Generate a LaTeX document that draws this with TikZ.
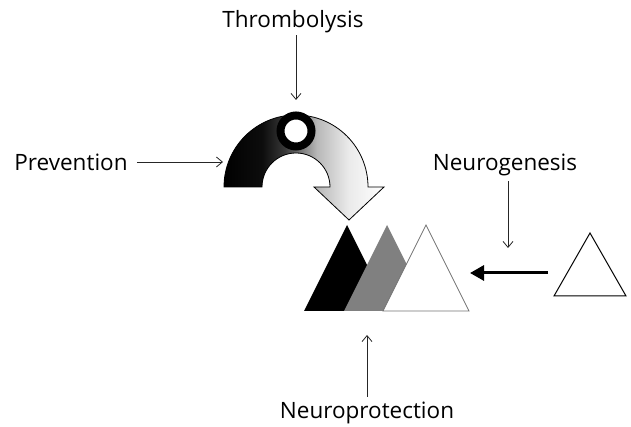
\documentclass[tikz,border=0pt]{standalone}
\usepackage{fontspec}
\setsansfont{Open Sans}
\usetikzlibrary{arrows.meta}
\pgfdeclarehorizontalshading{archfade}{100bp}{color(0bp)=(black); color(25bp)=(black); color(37bp)=(black!95); color(44bp)=(black!78); color(54bp)=(black!28); color(64bp)=(black!8); color(75bp)=(white); color(100bp)=(white)}
\tikzset{
    font=\sffamily,
    >={Straight Barb[length=6pt,width=10pt]},
    % Labels
    lbl/.style={font=\sffamily\fontsize{22.5}{26}\selectfont, inner sep=5pt},
    % Shapes
    ring/.style={circle, draw=black, line width=8pt, fill=white, minimum size=31pt, inner sep=0pt},
    % Arrows
    pointer/.style={->, line width=0.8pt, black!85},
    bigarrow/.style={-{Triangle[length=14pt,width=15pt]}, line width=3pt}
}

\begin{document}
\begin{tikzpicture}[x=1pt,y=1pt]
\useasboundingbox (0,0) rectangle (631,427);

% curved arrow with the ring on top
\shadedraw[shading=archfade, draw=black, line width=0.8pt]
    (224,240) arc[start angle=180, end angle=0, radius=72]
    -- (384,240) -- (349,207) -- (314,240) -- (330,240)
    arc[start angle=0, end angle=180, radius=34] -- cycle;
\node[ring] (ring) at (296,296) {};

% the three overlapping triangles
\fill[black] (304,116) -- (347,202) -- (390,116) -- cycle;
\fill[black!50] (344,116) -- (387,202) -- (430,116) -- cycle;
\filldraw[fill=white, draw=black!55, line width=0.8pt] (383,116) -- (426,202) -- (469,116) -- cycle;

% new triangle
\draw[line width=1pt] (554,131) -- (590,194) -- (626,131) -- cycle;
\coordinate (newTail) at (548,154);
\coordinate (newHead) at (470,154);
\draw[bigarrow] (newTail) -- (newHead);

% labels
\node[lbl] (thromb) at (293,405) {Thrombolysis};
\node[lbl] (prev) at (71,265) {Prevention};
\node[lbl] (neurog) at (505,262) {Neurogenesis};
\node[lbl] (neuroprot) at (367,14) {Neuroprotection};

\coordinate (thrombEnd) at (296,327);
\coordinate (prevEnd) at (223,265);
\coordinate (neurogEnd) at (508,179);
\coordinate (protEnd) at (367,92);

\draw[pointer, shorten <=-3pt] (thromb.south -| thrombEnd) -- (thrombEnd);
\draw[pointer, shorten <=4pt] (prev) -- (prevEnd);
\draw[pointer] (neurog.south -| neurogEnd) -- (neurogEnd);
\draw[pointer] (neuroprot.north -| protEnd) -- (protEnd);

\end{tikzpicture}
\end{document}
